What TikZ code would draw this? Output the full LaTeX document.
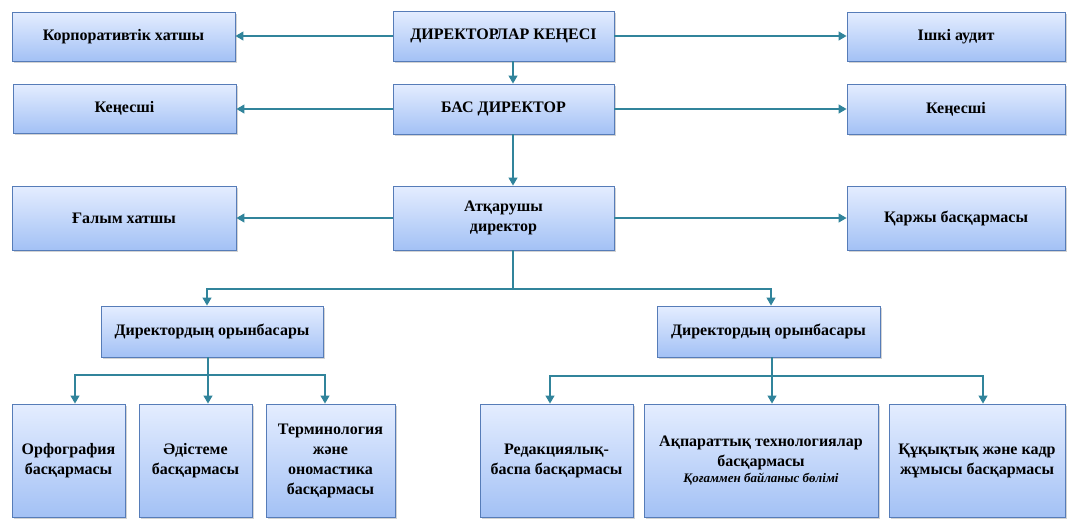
\documentclass[tikz,border=0pt]{standalone}
\usepackage{fontspec}
\setmainfont{Liberation Serif}
\usetikzlibrary{arrows.meta,shadows}

\definecolor{boxtop}{RGB}{228,237,255}
\definecolor{boxbot}{RGB}{163,193,245}
\definecolor{boxline}{RGB}{86,124,184}
\definecolor{linkteal}{RGB}{49,132,155}

\begin{document}
\begin{tikzpicture}[x=1pt, y=-1pt,
    unit/.style={draw=boxline, line width=0.9pt, top color=boxtop, bottom color=boxbot,
      drop shadow={shadow xshift=1.5pt, shadow yshift=-2pt, opacity=0.35},
      font=\fontsize{16}{20}\selectfont\bfseries, align=center, inner sep=2pt},
    link/.style={draw=linkteal, line width=1.2pt},
    arr/.style={link, -{Triangle[length=8pt, width=9pt]}}]
  \useasboundingbox (0,0) rectangle (1077,531);

  % top rows
  \node[unit, minimum width=221pt, minimum height=50pt] (board) at (503.5,36) {ДИРЕКТОРЛАР КЕҢЕСІ};
  \node[unit, minimum width=223pt, minimum height=49pt] (corp) at (123.5,36.5) {Корпоративтік хатшы};
  \node[unit, minimum width=218pt, minimum height=49pt] (audit) at (956,36.5) {Ішкі аудит};
  \node[unit, minimum width=221pt, minimum height=50pt] (ceo) at (503.5,109) {БАС ДИРЕКТОР};
  \node[unit, minimum width=223pt, minimum height=49pt] (advL) at (124.5,108.5) {Кеңесші};
  \node[unit, minimum width=218pt, minimum height=50pt] (advR) at (956,109) {Кеңесші};
  \node[unit, minimum width=221pt, minimum height=64pt] (exec) at (503.5,218) {Атқарушы\\директор};
  \node[unit, minimum width=224pt, minimum height=64pt] (sci) at (124,218) {Ғалым хатшы};
  \node[unit, minimum width=218pt, minimum height=64pt] (fin) at (956,218) {Қаржы басқармасы};

  % deputies
  \node[unit, minimum width=222pt, minimum height=51pt] (depL) at (212,331.5) {Директордың орынбасары};
  \node[unit, minimum width=223pt, minimum height=51pt] (depR) at (768.5,331.5) {Директордың орынбасары};

  % departments
  \node[unit, minimum width=113pt, minimum height=113pt] (orth) at (68.5,460.5) {Орфография\\басқармасы};
  \node[unit, minimum width=113pt, minimum height=113pt] (meth) at (195.5,460.5) {Әдістеме\\басқармасы};
  \node[unit, minimum width=129pt, minimum height=113pt] (term) at (330.5,460.5) {Терминология\\және\\ономастика\\басқармасы};
  \node[unit, minimum width=153pt, minimum height=113pt] (edit) at (556.5,460.5) {Редакциялық-\\баспа басқармасы};
  \node[unit, minimum width=234pt, minimum height=113pt] (info) at (761,460.5) {Ақпараттық технологиялар\\басқармасы\\[-4pt]{\fontsize{13}{15}\selectfont\itshape Қоғаммен байланыс бөлімі}};
  \node[unit, minimum width=176pt, minimum height=113pt] (law) at (977,460.5) {Құқықтық және кадр\\жұмысы басқармасы};

  \coordinate (spine) at (513,0);
  \coordinate (hubA) at (513,289);
  \coordinate (hubL) at (208,375);
  \coordinate (hubR) at (772,376);

  \draw[arr] (board.west) -- (board.west -| corp.east);
  \draw[arr] (board.east) -- (board.east -| audit.west);
  \draw[arr] (spine |- board.south) -- (spine |- ceo.north);
  \draw[arr] (ceo.west) -- (ceo.west -| advL.east);
  \draw[arr] (ceo.east) -- (ceo.east -| advR.west);
  \draw[arr] (spine |- ceo.south) -- (spine |- exec.north);
  \draw[arr] (exec.west) -- (sci.east);
  \draw[arr] (exec.east) -- (fin.west);

  \draw[link] (spine |- exec.south) -- (hubA);
  \draw[arr] (hubA) -| (depL.north -| 207,0);
  \draw[arr] (hubA) -| (depR.north -| 771,0);

  \draw[link] (depL.south -| hubL) -- (hubL);
  \draw[arr] (hubL) -| (orth.north -| 75,0);
  \draw[arr] (hubL) -- (meth.north -| hubL);
  \draw[arr] (hubL) -| (term.north -| 325,0);

  \draw[link] (depR.south -| hubR) -- (hubR);
  \draw[arr] (hubR) -| (edit.north -| 550,0);
  \draw[arr] (hubR) -- (info.north -| hubR);
  \draw[arr] (hubR) -| (law.north -| 983,0);
\end{tikzpicture}
\end{document}
